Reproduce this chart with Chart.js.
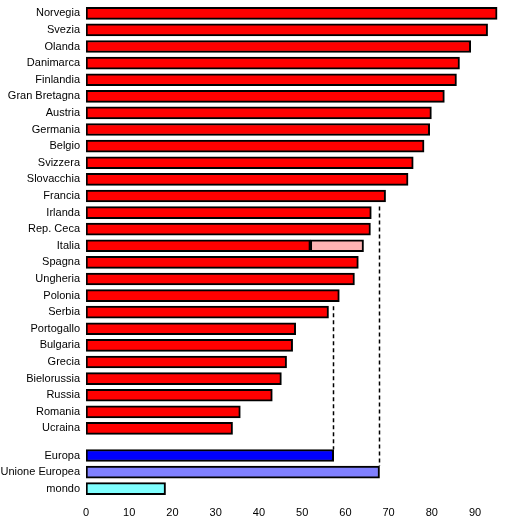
<!DOCTYPE html>
<html>
<head>
<meta charset="utf-8">
<script src="https://cdn.jsdelivr.net/npm/chart.js@4/dist/chart.umd.min.js"></script>
<style>
  html, body { margin: 0; padding: 0; background: #fff; }
  #wrap { width: 510px; height: 518px; position: relative; }
</style>
</head>
<body>
<div id="wrap"><canvas id="c" width="510" height="518"></canvas></div>
<script>
const countries = ['Norvegia','Svezia','Olanda','Danimarca','Finlandia','Gran Bretagna','Austria','Germania','Belgio','Svizzera','Slovacchia','Francia','Irlanda','Rep. Ceca','Italia','Spagna','Ungheria','Polonia','Serbia','Portogallo','Bulgaria','Grecia','Bielorussia','Russia','Romania','Ucraina'];
const countryValues = [95.1, 92.9, 89.0, 86.4, 85.7, 82.9, 79.9, 79.5, 78.2, 75.7, 74.5, 69.3, 66.0, 65.8, 51.9, 63.0, 62.1, 58.6, 56.1, 48.5, 47.8, 46.4, 45.2, 43.1, 35.7, 33.9];
const italiaExtra = [51.9, 64.2];
const aggregates = ['Europa', 'Unione Europea', 'mondo'];
const aggregateValues = [57.3, 67.9, 18.4];
const xTicks = [0, 10, 20, 30, 40, 50, 60, 70, 80, 90];

const GROUP_GAP = 0.63;
const BAR_T = 12;
const italiaIdx = countries.indexOf('Italia');
const countryPos = countries.map((_, i) => i);
const aggPos = aggregates.map((_, j) => countries.length + GROUP_GAP + j);
const allLabels = countries.concat(aggregates);
const allPos = countryPos.concat(aggPos);
const countryTotals = countryValues.map((v, i) => i === italiaIdx ? Math.max(v, italiaExtra[1]) : v);

const aggColors = ['#0000FF', '#8080FF', '#80FFFF'];

const dashPlugin = {
  id: 'dash',
  afterDatasetsDraw(chart) {
    const ctx = chart.ctx, xs = chart.scales.x, ys = chart.scales.y;
    ctx.save();
    ctx.strokeStyle = '#000';
    ctx.lineWidth = 1.5;
    ctx.setLineDash([4, 3]);
    [0, 1].forEach(j => {
      const v = aggregateValues[j];
      const i = countryTotals.findIndex(cv => cv < v);
      const x = Math.round(xs.getPixelForValue(v)) - 0.5;
      const y0 = ys.getPixelForValue(countryPos[i]) - BAR_T / 2;
      const y1 = ys.getPixelForValue(aggPos[j]) - BAR_T / 2;
      ctx.beginPath();
      ctx.moveTo(x, y0);
      ctx.lineTo(x, y1);
      ctx.stroke();
    });
    ctx.restore();
  }
};

const barStyle = { borderColor: '#000', borderWidth: 2, borderSkipped: false, barThickness: BAR_T };

new Chart(document.getElementById('c'), {
  type: 'bar',
  data: {
    datasets: [
      Object.assign({
        data: countryValues.map((v, i) => ({ x: v, y: countryPos[i] })),
        backgroundColor: '#FF0000'
      }, barStyle),
      Object.assign({
        data: [{ x: italiaExtra, y: italiaIdx }],
        backgroundColor: '#FFB4B4'
      }, barStyle),
      Object.assign({
        data: aggregateValues.map((v, j) => ({ x: v, y: aggPos[j] })),
        backgroundColor: aggColors
      }, barStyle)
    ]
  },
  options: {
    indexAxis: 'y',
    responsive: false,
    animation: false,
    grouped: false,
    layout: { padding: { top: 5, right: 9, left: 0, bottom: 0 } },
    plugins: { legend: { display: false }, tooltip: { enabled: false } },
    scales: {
      x: {
        type: 'linear',
        min: 0,
        max: 96,
        offset: false,
        grid: { display: false, drawTicks: false },
        border: { display: false },
        afterFit(s) { s.height = 21; },
        afterBuildTicks(s) { s.ticks = xTicks.map(v => ({ value: v })); },
        ticks: { color: '#000', font: { family: 'Liberation Sans, Arial, sans-serif', size: 11 }, padding: 9, maxRotation: 0, autoSkip: false }
      },
      y: {
        type: 'linear',
        reverse: true,
        offset: false,
        min: -0.5,
        max: countries.length + GROUP_GAP + aggregates.length - 0.5,
        grid: { display: false, drawTicks: false },
        border: { display: false },
        afterFit(s) { s.width = 86; s.paddingTop = 0; s.paddingBottom = 0; },
        afterBuildTicks(s) { s.ticks = allPos.map(v => ({ value: v })); },
        ticks: {
          color: '#000',
          font: { family: 'Liberation Sans, Arial, sans-serif', size: 11 },
          padding: 6,
          autoSkip: false,
          callback: (v, i) => allLabels[i]
        }
      }
    }
  },
  plugins: [dashPlugin]
});
</script>
</body>
</html>
